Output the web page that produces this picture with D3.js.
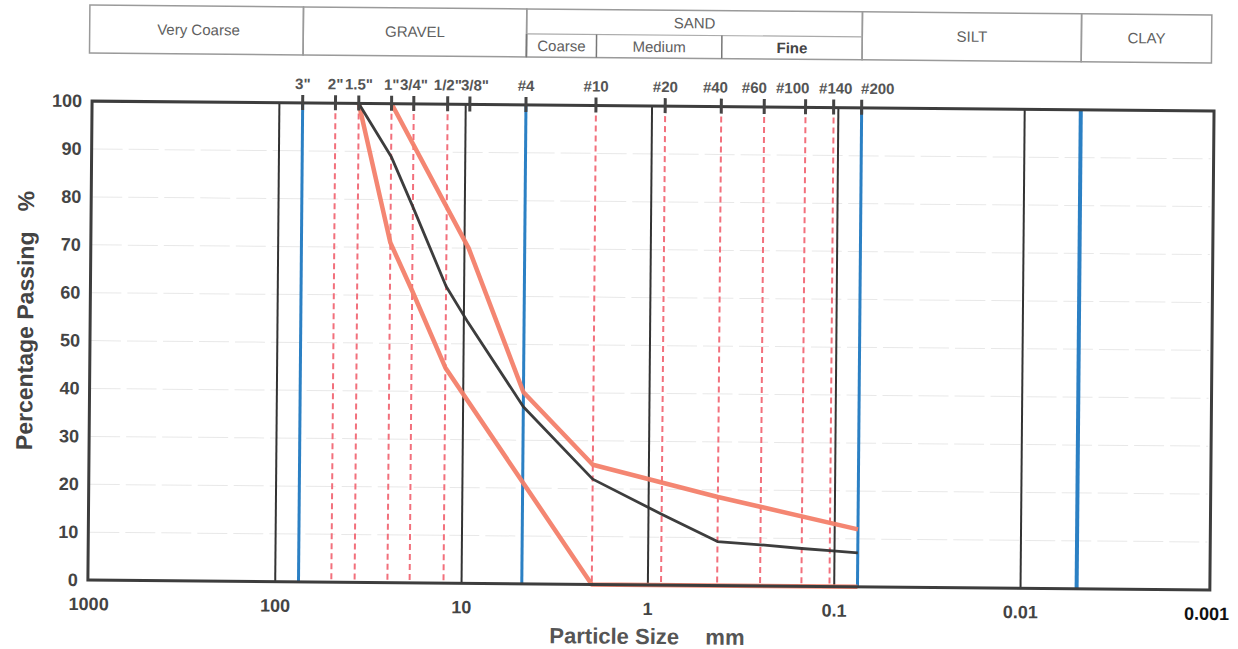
<!DOCTYPE html>
<html>
<head>
<meta charset="utf-8">
<script src="https://cdn.jsdelivr.net/npm/d3@7"></script>
<style>
  body { margin: 0; background: #fff; }
  svg { display: block; font-family: "Liberation Sans", Arial, sans-serif; }
</style>
</head>
<body>
<svg width="1238" height="649"></svg>
<script>
// sieve sizes along the top (mm) and their labels
const sieveLabels = ['3"', '2"', '1.5"', '1"', '3/4"', '1/2"', '3/8"', '#4', '#10', '#20', '#40', '#60', '#100', '#140', '#200'];
const sieveSizes  = [75, 50, 37.5, 25, 19, 12.5, 9.5, 4.75, 2, 0.85, 0.425, 0.25, 0.15, 0.106, 0.075];

// x ticks (mm) and y ticks (%)
const xTicks = [1000, 100, 10, 1, 0.1, 0.01, 0.001];
const yTicks = [0, 10, 20, 30, 40, 50, 60, 70, 80, 90, 100];

// vertical lines in the grid
const decadeLines   = [100, 10, 1, 0.1, 0.01];
const boundaryLines = [75, 4.75, 0.075, 0.005];
const dashedSieves  = [50, 37.5, 25, 19, 12.5, 2, 0.85, 0.425, 0.25, 0.15, 0.106];

// soil classes in the header
const headerTop    = [{name: "Very Coarse", from: 1000, to: 75}, {name: "GRAVEL", from: 75, to: 4.75},
                      {name: "SILT", from: 0.075, to: 0.005}, {name: "CLAY", from: 0.005, to: 0.001}];
const sandParts    = [{name: "Coarse", from: 4.75, to: 2}, {name: "Medium", from: 2, to: 0.425}, {name: "Fine", from: 0.425, to: 0.075}];

// grading curves: sample and envelope limits
const sampleSize = [37.5, 25, 19, 12.5, 9.5, 4.75, 2, 0.85, 0.425, 0.25, 0.15, 0.106, 0.075];
const samplePass = [100, 89, 78.5, 62, 54.5, 37, 22, 14.8, 9.2, 8.6, 7.9, 7.5, 7.1];
const upperSize  = [25, 9.5, 4.75, 2, 0.425, 0.075];
const upperPass  = [100, 70, 40, 25, 18.5, 12];
const lowerSize  = [37.5, 25, 19, 12.5, 2, 0.075];
const lowerPass  = [100, 71, 61, 45, 0, 0];

const svg = d3.select("svg");
const x = d3.scaleLog().domain([1000, 0.001]).range([91, 1209]);
const y = d3.scaleLinear().domain([0, 100]).range([585, 106]);

// the scanned sheet is a bit tilted
const g = svg.append("g").attr("transform", "rotate(0.5, 650, 341)");

// header boxes
const hTop = 10, hMid = 35, hBot = 58;
const head = g.append("g");
headerTop.forEach(d => {
  head.append("rect").attr("x", x(d.from) - (d.from === 1000 ? 4 : 0)).attr("y", hTop)
    .attr("width", x(d.to) - x(d.from) + (d.from === 1000 ? 4 : 0)).attr("height", hBot - hTop)
    .attr("fill", "none").attr("stroke", "#9a9a9a").attr("stroke-width", 1.5);
  head.append("text").attr("x", (x(d.from) + x(d.to)) / 2).attr("y", (hTop + hBot) / 2 + 5)
    .attr("text-anchor", "middle").attr("font-size", 15).attr("fill", "#606060").text(d.name);
});
head.append("rect").attr("x", x(4.75)).attr("y", hTop)
  .attr("width", x(0.075) - x(4.75)).attr("height", hBot - hTop)
  .attr("fill", "none").attr("stroke", "#9a9a9a").attr("stroke-width", 1.5);
head.append("line").attr("x1", x(4.75)).attr("x2", x(0.075)).attr("y1", hMid).attr("y2", hMid)
  .attr("stroke", "#aaa").attr("stroke-width", 1.2);
head.append("text").attr("x", (x(4.75) + x(0.075)) / 2).attr("y", 28)
  .attr("text-anchor", "middle").attr("font-size", 15).attr("fill", "#606060").text("SAND");
sandParts.forEach(d => {
  head.append("line").attr("x1", x(d.from)).attr("x2", x(d.from)).attr("y1", hMid).attr("y2", hBot)
    .attr("stroke", "#777").attr("stroke-width", 1.5);
  head.append("text").attr("x", (x(d.from) + x(d.to)) / 2).attr("y", 52)
    .attr("text-anchor", "middle").attr("font-size", 15)
    .attr("font-weight", d.name === "Fine" ? "bold" : "normal")
    .attr("fill", d.name === "Fine" ? "#444" : "#606060").text(d.name);
});

// faint horizontal grid
g.append("g").selectAll("line").data(yTicks.slice(1, -1)).join("line")
  .attr("x1", x(1000)).attr("x2", x(0.001)).attr("y1", d => y(d)).attr("y2", d => y(d))
  .attr("stroke", "#e8e8e8").attr("stroke-width", 1).attr("stroke-dasharray", "30,6");

// red dashed sieve lines
g.append("g").selectAll("line").data(dashedSieves).join("line")
  .attr("x1", d => x(d)).attr("x2", d => x(d)).attr("y1", y(100)).attr("y2", y(0))
  .attr("stroke", "#f2707c").attr("stroke-width", 2).attr("stroke-dasharray", "6,4");

// decade lines
g.append("g").selectAll("line").data(decadeLines).join("line")
  .attr("x1", d => x(d)).attr("x2", d => x(d)).attr("y1", y(100)).attr("y2", y(0))
  .attr("stroke", "#333").attr("stroke-width", 2);

// class boundary lines
g.append("g").selectAll("line").data(boundaryLines).join("line")
  .attr("x1", d => x(d)).attr("x2", d => x(d)).attr("y1", y(100)).attr("y2", y(0))
  .attr("stroke", "#2b80c4").attr("stroke-width", d => d === 0.005 ? 4 : 3);

// curves
const line = d3.line().x(d => x(d[0])).y(d => y(d[1]));
const curves = [
  {size: upperSize, pass: upperPass, color: "#f3806a", w: 4.5},
  {size: lowerSize, pass: lowerPass, color: "#f3806a", w: 4.5},
  {size: sampleSize, pass: samplePass, color: "#333", w: 2.8}
];
curves.forEach(c => {
  g.append("path").attr("d", line(d3.zip(c.size, c.pass)))
    .attr("fill", "none").attr("stroke", c.color).attr("stroke-width", c.w)
    .attr("stroke-linejoin", "round").attr("opacity", 0.95);
});

// frame
g.append("rect").attr("x", x(1000) - 1).attr("y", y(100))
  .attr("width", x(0.001) + 3 - (x(1000) - 1)).attr("height", y(0) - y(100))
  .attr("fill", "none").attr("stroke", "#3d3d3d").attr("stroke-width", 3);

// top sieve ticks and labels
const nudge = {'3/8"': 5, '#40': -6, '#60': -10, '#100': -13, '#140': 2, '#200': 16};
const sieveG = g.append("g");
sieveG.selectAll("line").data(sieveSizes).join("line")
  .attr("x1", d => x(d)).attr("x2", d => x(d)).attr("y1", y(100) - 8).attr("y2", y(100) + 7)
  .attr("stroke", "#444").attr("stroke-width", 3);
sieveG.selectAll("text").data(sieveSizes).join("text")
  .attr("x", (d, i) => x(d) + (nudge[sieveLabels[i]] || 0)).attr("y", y(100) - 14)
  .attr("text-anchor", "middle").attr("font-size", 15).attr("font-weight", "bold")
  .attr("fill", "#555").text((d, i) => sieveLabels[i]);

// axis labels
g.append("g").selectAll("text").data(yTicks).join("text")
  .attr("x", 80).attr("y", d => y(d) + 6)
  .attr("text-anchor", "end").attr("font-size", 18).attr("font-weight", "bold")
  .attr("fill", "#444").text(d => d);
g.append("g").selectAll("text").data(xTicks).join("text")
  .attr("x", d => x(d)).attr("y", 615)
  .attr("text-anchor", "middle").attr("font-size", 18).attr("font-weight", "bold")
  .attr("fill", d => d === 0.001 ? "#111" : "#444").text(d => d3.format("~g")(d));

g.append("text").attr("transform", "translate(33,326) rotate(-90)")
  .attr("text-anchor", "middle").attr("font-size", 23).attr("font-weight", "bold").attr("fill", "#444")
  .text("Percentage Passing")
  .append("tspan").attr("dx", 20).text("%");

const xt = g.append("text").attr("x", 552).attr("y", 644)
  .attr("font-size", 22).attr("font-weight", "bold").attr("fill", "#555").text("Particle Size");
xt.append("tspan").attr("x", 708).text("mm");
</script>
</body>
</html>
